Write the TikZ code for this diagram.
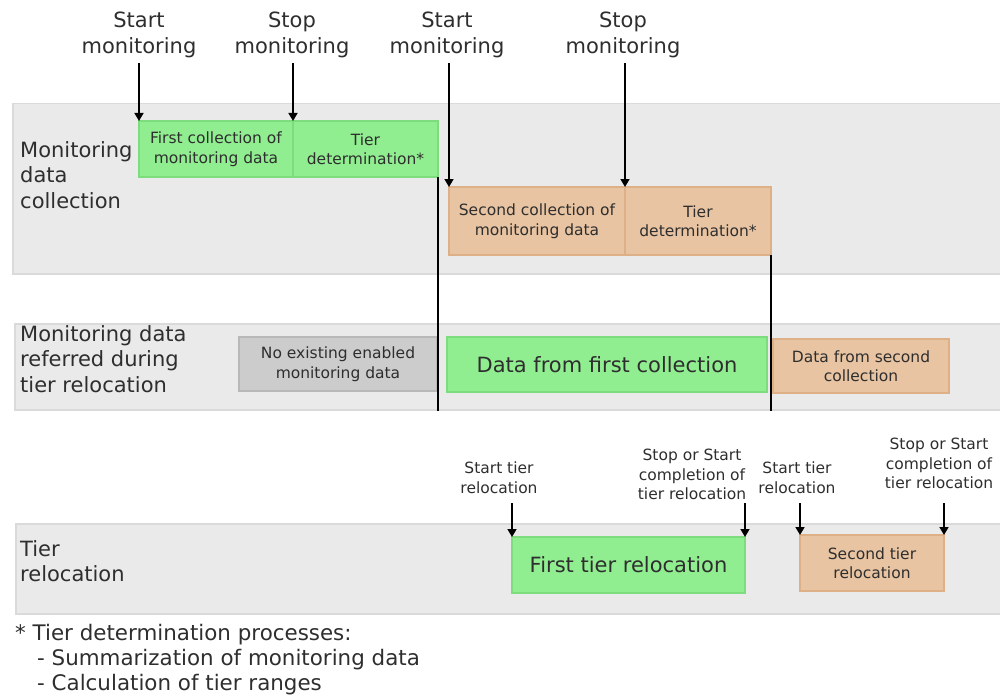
\documentclass[tikz,border=0pt]{standalone}
\usepackage{fontspec}
\setmainfont{DejaVu Sans}
\usetikzlibrary{positioning,arrows.meta}

\definecolor{bandgray}{HTML}{EAEAEA}
\definecolor{bandline}{HTML}{DADADA}
\definecolor{firstgreen}{HTML}{90EE90}
\definecolor{firstline}{HTML}{7DDC7D}
\definecolor{secondtan}{HTML}{E8C4A2}
\definecolor{secondline}{HTML}{DDB088}
\definecolor{nodatagray}{HTML}{CCCCCC}
\definecolor{nodataline}{HTML}{B8B8B8}
\definecolor{inktext}{HTML}{2E2E2E}

\newcommand\bigfont{\fontsize{21}{25.5}\selectfont}
\newcommand\smallfont{\fontsize{15.5}{19.5}\selectfont}

\tikzset{
  band/.style={fill=bandgray,draw=bandline,line width=1.5pt,anchor=north west,
    minimum width=1000pt,inner sep=0pt},
  phase/.style={line width=1.2pt,align=center,inner sep=0pt,outer sep=0pt,
    text=inktext,anchor=north west,font=\smallfont},
  firstphase/.style={phase,fill=firstgreen,draw=firstline},
  secondphase/.style={phase,fill=secondtan,draw=secondline},
  emptyphase/.style={phase,fill=nodatagray,draw=nodataline},
  event/.style={align=center,inner sep=0pt,outer ysep=5pt,anchor=north,
    text=inktext,font=\bigfont},
  relevent/.style={event,font=\smallfont},
  rowlabel/.style={align=left,anchor=north west,inner sep=0pt,text=inktext,
    font=\bigfont},
  arr/.style={-{Triangle[width=9pt,length=8pt]},line width=1.6pt},
  cut/.style={line width=1.6pt},
}

\begin{document}
\begin{tikzpicture}[x=1pt,y=-1pt]
  \useasboundingbox (0,0) rectangle (1000,698);

  % rows
  \node[band,minimum height=170pt] (bandCollect) at (12,103) {};
  \node[band,minimum height=86pt]  (bandRefer)   at (14,323) {};
  \node[band,minimum height=90pt]  (bandReloc)   at (15,523) {};

  \node[rowlabel] (rowCollect) at (20,141) {Monitoring\\data\\collection};
  \node[rowlabel] (rowRefer)   at (20,325) {Monitoring data\\referred during\\tier relocation};
  \node[rowlabel] (rowReloc)   at (20,540) {Tier\\relocation};

  % monitoring periods
  \node[firstphase,minimum width=154pt,minimum height=56pt] (collA) at (139,121)
    {First collection of\\monitoring data};
  \node[firstphase,minimum width=145pt,minimum height=56pt,anchor=west,right=0pt of collA] (detA)
    {Tier\\determination*};
  \node[secondphase,minimum width=176pt,minimum height=68pt] (collB) at (449,187)
    {Second collection of\\monitoring data};
  \node[secondphase,minimum width=146pt,minimum height=68pt,anchor=west,right=0pt of collB] (detB)
    {Tier\\determination*};

  % data used for relocation
  \node[emptyphase,minimum width=198pt,minimum height=54pt] (noData) at (239,337)
    {No existing enabled\\monitoring data};
  \node[firstphase,minimum width=320pt,minimum height=55pt,font=\bigfont] (dataA) at (447,337)
    {Data from first collection};
  \node[secondphase,minimum width=176pt,minimum height=54pt] (dataB) at (773,339)
    {Data from second\\collection};

  % relocation periods
  \node[firstphase,minimum width=233pt,minimum height=56pt,font=\bigfont] (relA) at (512,537)
    {First tier relocation};
  \node[secondphase,minimum width=144pt,minimum height=56pt] (relB) at (800,535)
    {Second tier\\relocation};

  % events
  \node[event] (startA) at (139,7) {Start\\monitoring};
  \node[event] (stopA)  at (292,7) {Stop\\monitoring};
  \node[event] (startB) at (447,7) {Start\\monitoring};
  \node[event] (stopB)  at (623,7) {Stop\\monitoring};

  \node[relevent] (startRelA) at (499,457) {Start tier\\relocation};
  \node[relevent] (stopRelA)  at (692,444) {Stop or Start\\completion of\\tier relocation};
  \node[relevent] (startRelB) at (797,457) {Start tier\\relocation};
  \node[relevent] (stopRelB)  at (939,433) {Stop or Start\\completion of\\tier relocation};

  \coordinate (monTop) at (0,63);
  \coordinate (relTop) at (0,503);

  \foreach \tgt/\anc in {collA/north west, detA/north west, collB/north west, detB/north west}
    \draw[arr] (\tgt.\anc |- monTop) -- (\tgt.\anc);
  \foreach \tgt/\anc in {relA/north west, relA/north east, relB/north west, relB/north east}
    \draw[arr] (\tgt.\anc |- relTop) -- (\tgt.\anc);

  % end of each determination
  \draw[cut] (detA.south east) -- (detA.south east |- bandRefer.south);
  \draw[cut] (detB.south east) -- (detB.south east |- bandRefer.south);

  \node[rowlabel,font=\fontsize{21.4}{25}\selectfont] (note) at (15,624)
    {* Tier determination processes:\\
     \hspace*{22pt}- Summarization of monitoring data\\
     \hspace*{22pt}- Calculation of tier ranges};
\end{tikzpicture}
\end{document}
